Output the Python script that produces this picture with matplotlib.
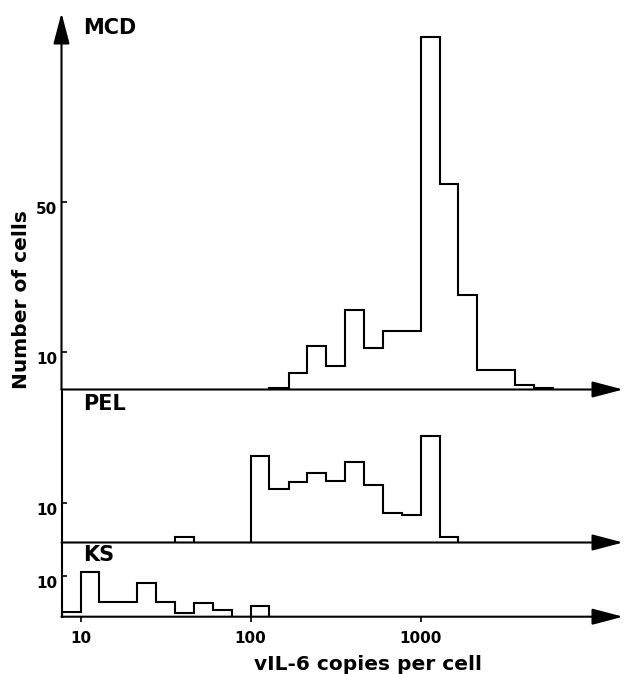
import numpy as np
import matplotlib
matplotlib.use("Agg")
import matplotlib.pyplot as plt
from matplotlib.ticker import NullLocator, FixedLocator

# ---- data (bin edges on a 9-per-decade grid) ----
mcd_edges = [129, 167, 215, 278, 359, 464, 599, 774, 1000, 1292, 1668, 2154, 2783, 3594, 4642, 5995]
mcd_counts = [0.3, 4.3, 11.5, 6.4, 21.3, 11.2, 15.5, 15.5, 93.9, 54.7, 25.3, 5.3, 5.3, 1.3, 0.3]

pel_edges = [35.9, 46.4, 59.9, 77.4, 100, 129, 167, 215, 278, 359, 464, 599, 774, 1000, 1292, 1668]
pel_counts = [1.3, 0, 0, 0, 22.1, 13.6, 15.5, 17.6, 15.6, 20.5, 14.6, 7.6, 6.9, 27.2, 1.4]

ks_edges = [7.74, 10, 12.9, 16.7, 21.5, 27.8, 35.9, 46.4, 59.9, 77.4, 100, 129]
ks_counts = [1.2, 11.0, 3.7, 3.7, 8.3, 3.7, 1.0, 3.4, 1.7, 0, 2.7]

panels = ["MCD", "PEL", "KS"]
yticks = [[10, 50], [10], [10]]
xticks = [10, 100, 1000]
xlabel = "vIL-6 copies per cell"
ylabel = "Number of cells"

W, H = 626, 674
fig = plt.figure(figsize=(W / 100, H / 100), dpi=100)

LEFT, RIGHT = 61.5, 623.0
XMIN, XMAX = 7.71, 15500
LW = 1.5

def px_axes(top, bottom):
    return fig.add_axes([LEFT / W, 1 - bottom / H, (RIGHT - LEFT) / W, (bottom - top) / H])

def draw_hist(ax, edges, counts):
    # one outline per run of non-empty bins, so empty bins leave only the baseline
    i, n = 0, len(counts)
    while i < n:
        if counts[i] == 0:
            i += 1; continue
        j = i
        while j < n and counts[j] != 0:
            j += 1
        ax.stairs(counts[i:j], edges[i:j + 1], color="black", lw=LW, clip_on=False)
        i = j

# (top px, baseline px, y max in cells)
layout = [(13.0, 389.5, 100.4), (389.5, 542.5, 38.9), (542.5, 616.7, 18.1)]
data = [(mcd_edges, mcd_counts), (pel_edges, pel_counts), (ks_edges, ks_counts)]
label_y = [0.961, 0.902, 0.838]

arrow = dict(arrowstyle="-|>,head_length=1.9,head_width=0.5", mutation_scale=10,
             color="black", lw=LW, shrinkA=0, shrinkB=0)

for i, ((top, base, ymax), (edges, counts)) in enumerate(zip(layout, data)):
    ax = px_axes(top, base)
    ax.set_xscale("log")
    ax.set_xlim(XMIN, XMAX)
    ax.set_ylim(0, ymax)
    ax.patch.set_alpha(0)
    for s in ("top", "right", "bottom"):
        ax.spines[s].set_visible(False)
    ax.spines["left"].set_linewidth(LW)
    draw_hist(ax, edges, counts)
    # baseline arrow
    ax.annotate("", xy=(1, 0), xytext=(0, 0), xycoords="axes fraction",
                arrowprops=arrow, annotation_clip=False)
    if i == 0:
        ax.spines["left"].set_visible(False)
        ax.annotate("", xy=(0, 1), xytext=(0, 0), xycoords="axes fraction",
                    arrowprops=arrow, annotation_clip=False)
    ax.yaxis.set_major_locator(FixedLocator(yticks[i]))
    ax.set_yticklabels([str(v) for v in yticks[i]], fontsize=11, fontweight="bold")
    ax.tick_params(axis="y", direction="in", length=3.5, width=1.2, pad=3)
    for t in ax.get_yticklabels():
        t.set_verticalalignment("top")
        t.set_y(t.get_position()[1])
    ax.xaxis.set_minor_locator(NullLocator())
    if i == 2:
        ax.xaxis.set_major_locator(FixedLocator(xticks))
        ax.set_xticklabels([str(v) for v in xticks], fontsize=11, fontweight="bold")
        ax.tick_params(axis="x", direction="out", length=3.6, width=1.2, pad=7)
    else:
        ax.xaxis.set_major_locator(NullLocator())
    ax.text(0.038, label_y[i], panels[i], transform=ax.transAxes, ha="left", va="center",
            fontsize=15, fontweight="bold")

fig.text(368 / W, 1 - 664 / H, xlabel, ha="center", va="center", fontsize=14.5, fontweight="bold")
fig.text(22 / W, 1 - 300 / H, ylabel, ha="center", va="center", rotation=90,
         fontsize=14.5, fontweight="bold")

fig.savefig("out.png", dpi=100)
